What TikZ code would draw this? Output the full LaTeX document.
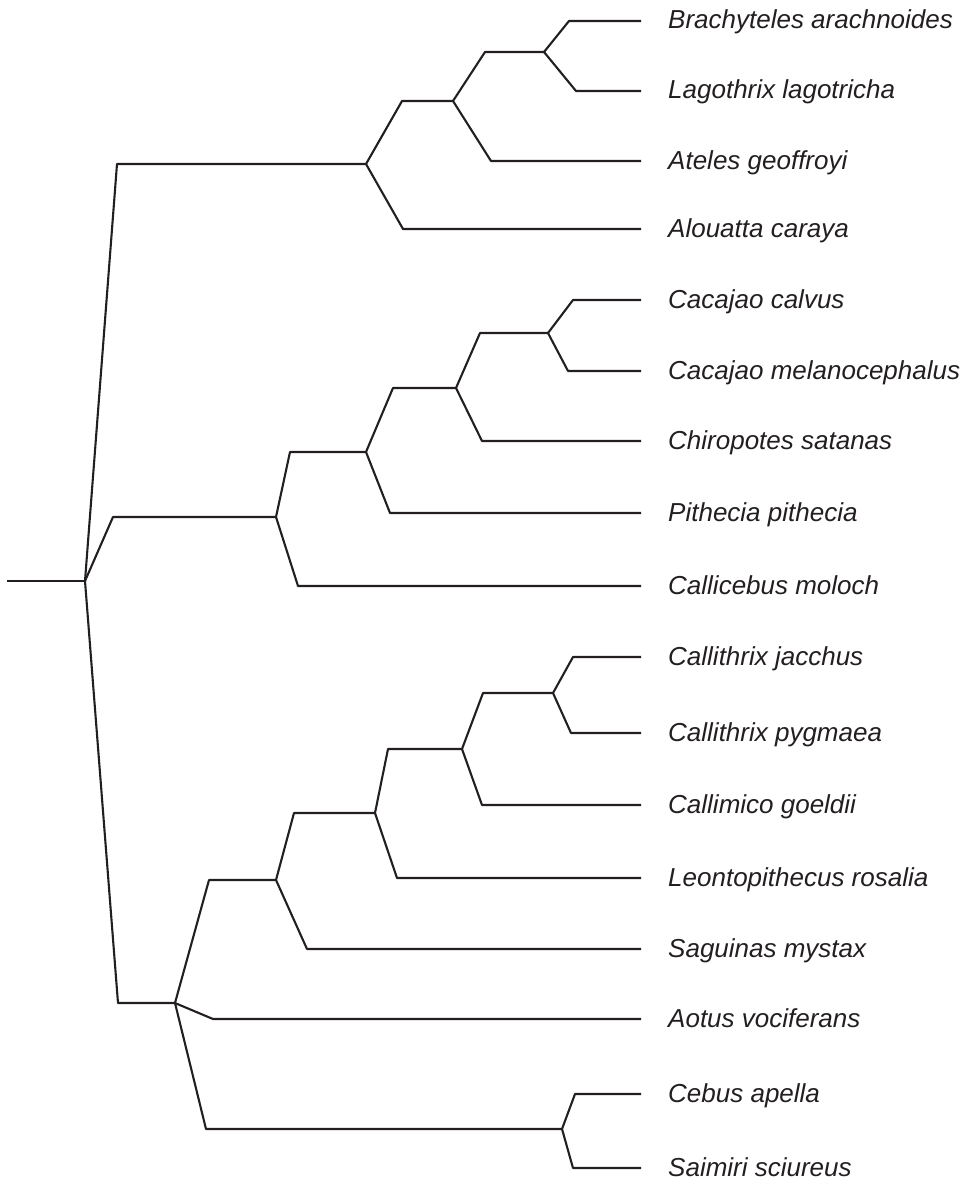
\documentclass[tikz,border=0pt]{standalone}
\usepackage{fontspec}
\setmainfont{Liberation Sans}
\definecolor{treeink}{HTML}{231F20}
\begin{document}
\begin{tikzpicture}[x=1pt,y=-1pt,
  branch/.style={line width=2.1pt, draw=treeink, line join=round},
  taxon/.style={anchor=base west, inner sep=0pt, text=treeink,
    font=\fontsize{26}{30}\selectfont\itshape}]
\useasboundingbox (0,0) rectangle (971,1180);

% internal nodes
\coordinate (stub) at (7,581);
\coordinate (R) at (85,581);
\coordinate (A) at (366,164);
\coordinate (B) at (453,101);
\coordinate (C) at (544,52);
\coordinate (D) at (276,517);
\coordinate (E) at (366,452);
\coordinate (F) at (456,388);
\coordinate (G) at (548,333);
\coordinate (I) at (175,1003);
\coordinate (J) at (276,880);
\coordinate (K) at (375,813);
\coordinate (L) at (462,749);
\coordinate (M) at (553,693);
\coordinate (N) at (562,1129);

% leaf ends
\coordinate (eBra) at (641,21);
\coordinate (eLag) at (641,91);
\coordinate (eAte) at (641,161);
\coordinate (eAlo) at (641,229);
\coordinate (eCca) at (641,300);
\coordinate (eCme) at (641,371);
\coordinate (eChi) at (641,441);
\coordinate (ePit) at (641,513);
\coordinate (eCal) at (641,586);
\coordinate (eCja) at (641,657);
\coordinate (eCpy) at (641,733);
\coordinate (eCgo) at (641,805);
\coordinate (eLeo) at (641,878);
\coordinate (eSag) at (641,949);
\coordinate (eAot) at (641,1019);
\coordinate (eCeb) at (641,1094);
\coordinate (eSai) at (641,1168);

% labels
\node[taxon] (tBra) at (668,29) {Brachyteles arachnoides};
\node[taxon] (tLag) at (668,99) {Lagothrix lagotricha};
\node[taxon] (tAte) at (668,169) {Ateles geoffroyi};
\node[taxon] (tAlo) at (668,237) {Alouatta caraya};
\node[taxon] (tCca) at (668,308) {Cacajao calvus};
\node[taxon] (tCme) at (668,379) {Cacajao melanocephalus};
\node[taxon] (tChi) at (668,449) {Chiropotes satanas};
\node[taxon] (tPit) at (668,521) {Pithecia pithecia};
\node[taxon] (tCal) at (668,594) {Callicebus moloch};
\node[taxon] (tCja) at (668,665) {Callithrix jacchus};
\node[taxon] (tCpy) at (668,741) {Callithrix pygmaea};
\node[taxon] (tCgo) at (668,813) {Callimico goeldii};
\node[taxon] (tLeo) at (668,886) {Leontopithecus rosalia};
\node[taxon] (tSag) at (668,957) {Saguinas mystax};
\node[taxon] (tAot) at (668,1027) {Aotus vociferans};
\node[taxon] (tCeb) at (668,1102) {Cebus apella};
\node[taxon] (tSai) at (668,1176) {Saimiri sciureus};

% branches
\draw[branch] (stub) -- (R);
\draw[branch] (R) -- (117,164) -- (A);
\draw[branch] (A) -- (402,101) -- (B);
\draw[branch] (B) -- (485,52) -- (C);
\draw[branch] (C) -- (569,21) -- (eBra);
\draw[branch] (C) -- (576,91) -- (eLag);
\draw[branch] (B) -- (491,161) -- (eAte);
\draw[branch] (A) -- (403,229) -- (eAlo);

\draw[branch] (R) -- (113,517) -- (D);
\draw[branch] (D) -- (290,452) -- (E);
\draw[branch] (E) -- (393,388) -- (F);
\draw[branch] (F) -- (480,333) -- (G);
\draw[branch] (G) -- (573,300) -- (eCca);
\draw[branch] (G) -- (568,371) -- (eCme);
\draw[branch] (F) -- (482,441) -- (eChi);
\draw[branch] (E) -- (390,513) -- (ePit);
\draw[branch] (D) -- (298,586) -- (eCal);

\draw[branch] (R) -- (118,1003) -- (I);
\draw[branch] (I) -- (209,880) -- (J);
\draw[branch] (J) -- (294,813) -- (K);
\draw[branch] (K) -- (388,749) -- (L);
\draw[branch] (L) -- (483,693) -- (M);
\draw[branch] (M) -- (573,657) -- (eCja);
\draw[branch] (M) -- (571,733) -- (eCpy);
\draw[branch] (L) -- (482,805) -- (eCgo);
\draw[branch] (K) -- (397,878) -- (eLeo);
\draw[branch] (J) -- (307,949) -- (eSag);
\draw[branch] (I) -- (213,1019) -- (eAot);
\draw[branch] (I) -- (206,1129) -- (N);
\draw[branch] (N) -- (575,1094) -- (eCeb);
\draw[branch] (N) -- (573,1168) -- (eSai);
\end{tikzpicture}
\end{document}
